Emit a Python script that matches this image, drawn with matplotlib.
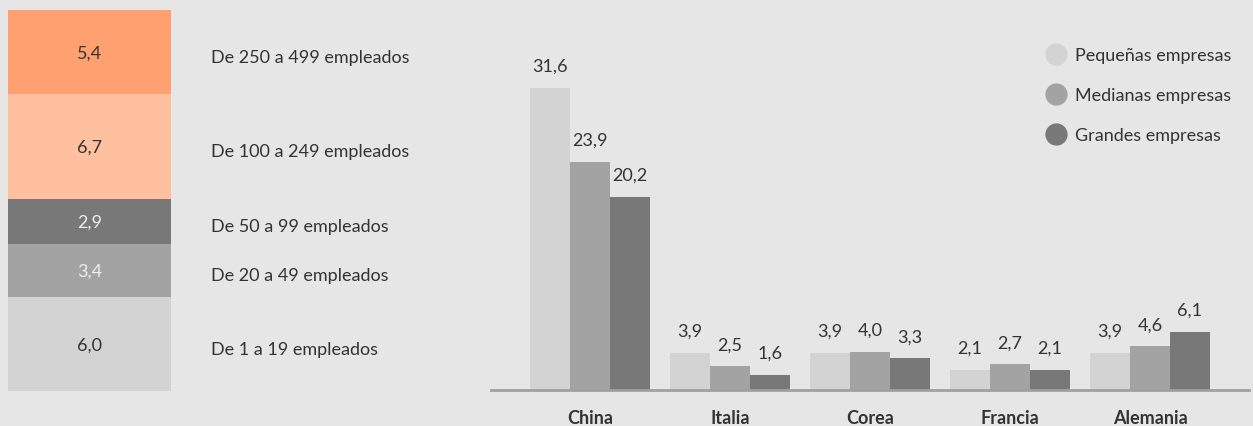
import numpy as np
import matplotlib.pyplot as plt
from matplotlib.lines import Line2D

plt.rcParams['font.family'] = ['Lato', 'DejaVu Sans']

# left stacked column (bottom -> top)
size_labels = ['De 1 a 19 empleados', 'De 20 a 49 empleados', 'De 50 a 99 empleados',
               'De 100 a 249 empleados', 'De 250 a 499 empleados']
size_values = [6.0, 3.4, 2.9, 6.7, 5.4]
size_colors = ['#D3D3D3', '#A3A3A3', '#787878', '#FFC0A0', '#FFA070']
size_text_colors = ['#333333', '#EEEEEE', '#EEEEEE', '#333333', '#333333']

# right grouped bars
countries = ['China', 'Italia', 'Corea', 'Francia', 'Alemania']
pequenas = [31.6, 3.9, 3.9, 2.1, 3.9]
medianas = [23.9, 2.5, 4.0, 2.7, 4.6]
grandes = [20.2, 1.6, 3.3, 2.1, 6.1]
series_names = ['Pequeñas empresas', 'Medianas empresas', 'Grandes empresas']
series_colors = ['#D3D3D3', '#A3A3A3', '#787878']

bg = '#E6E6E6'
txt = '#333333'
fs = 13
W, H = 1253, 427
fig = plt.figure(figsize=(W / 100, H / 100), dpi=100, facecolor=bg)

def px_axes(x0, y0, x1, y1):
    return fig.add_axes([x0 / W, 1 - y1 / H, (x1 - x0) / W, (y1 - y0) / H])

# ---- left stacked column
ax1 = px_axes(8, 11, 171, 392)
ax1.set_facecolor(bg)
bottoms = np.concatenate([[0], np.cumsum(size_values)[:-1]])
ax1.bar([0] * len(size_values), size_values, 1.0, bottom=bottoms, color=size_colors)
ax1.set_xlim(-0.5, 0.5)
ax1.set_ylim(0, sum(size_values))
ax1.axis('off')
for b, v, lab, tc in zip(bottoms, size_values, size_labels, size_text_colors):
    yc = b + v / 2
    ax1.text(0, yc, '{:.1f}'.format(v).replace('.', ','), ha='center', va='center',
             color=tc, fontsize=fs)
    ax1.text(1.245, yc - 0.3, lab, transform=ax1.get_yaxis_transform(), ha='left',
             va='center', color=txt, fontsize=fs, clip_on=False)

# ---- right grouped bars
ax2 = px_axes(491, 0, 1249, 391)
ax2.set_facecolor(bg)
x = np.arange(len(countries))
width = 0.285
for i, (vals, col) in enumerate(zip([pequenas, medianas, grandes], series_colors)):
    rects = ax2.bar(x + (i - 1) * width, vals, width, color=col)
    for r, v in zip(rects, vals):
        ax2.annotate('{:.1f}'.format(v).replace('.', ','),
                     xy=(r.get_x() + r.get_width() / 2, v), xytext=(0, 10),
                     textcoords='offset points', ha='center', va='bottom',
                     color=txt, fontsize=fs)
ax2.set_xlim(-0.707, 4.707)
ax2.set_ylim(0, 40.9)
for s in ['top', 'right', 'left']:
    ax2.spines[s].set_visible(False)
ax2.spines['bottom'].set_color('#A0A0A0')
ax2.spines['bottom'].set_linewidth(2)
ax2.set_yticks([])
ax2.set_xticks(x)
ax2.set_xticklabels(countries, fontweight='bold', fontsize=fs, color=txt)
ax2.tick_params(axis='x', length=0, pad=14)

handles = [Line2D([0], [0], marker='o', linestyle='', markersize=15,
                  markerfacecolor=c, markeredgecolor=c) for c in series_colors]
ax2.legend(handles, series_names, loc='upper left', bbox_to_anchor=(1046 / W, 1 - 48 / H),
           bbox_transform=fig.transFigure, frameon=False, fontsize=fs, labelcolor=txt,
           handlelength=1.1, handletextpad=0.5, labelspacing=1.33, borderpad=0,
           borderaxespad=0)

fig.savefig('out.png', dpi=100, facecolor=bg)
